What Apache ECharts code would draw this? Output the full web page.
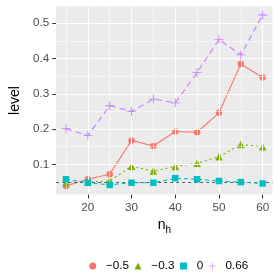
<!DOCTYPE html>
<html><head><meta charset="utf-8">
<script src="https://cdn.jsdelivr.net/npm/echarts@6/dist/echarts.min.js"></script>
<style>html,body{margin:0;padding:0;background:#fff}#c{width:280px;height:280px}</style>
</head><body><div id="c"></div>
<script>
var nh = [15, 20, 25, 30, 35, 40, 45, 50, 55, 60];
var seriesNames = ['\u22120.5', '\u22120.3', '0', '0.66'];
var levelM05 = [0.039, 0.058, 0.072, 0.168, 0.152, 0.193, 0.191, 0.246, 0.384, 0.346];
var levelM03 = [0.048, 0.050, 0.053, 0.095, 0.081, 0.094, 0.103, 0.122, 0.156, 0.150];
var level0   = [0.058, 0.048, 0.042, 0.048, 0.048, 0.061, 0.058, 0.053, 0.050, 0.046];
var level066 = [0.201, 0.182, 0.266, 0.250, 0.285, 0.274, 0.360, 0.454, 0.410, 0.523];
var xTicks = [20, 30, 40, 50, 60];
var xMinor = [15, 25, 35, 45, 55];
var yTicks = [0.1, 0.2, 0.3, 0.4, 0.5];
var yMinor = [0.05, 0.15, 0.25, 0.35, 0.45];
var refLevel = 0.05;

var colors = ['#F8766D', '#7CAE00', '#00BFC4', '#C77CFF'];
var plusPath = 'path://M4.55,0h0.9v10h-0.9z M0,4.55h10v0.9h-10z';
var symbols = ['circle', 'triangle', 'rect', plusPath];
var symSizes = [6.5, 7.5, 6.5, 9];
var dashes = ['solid', [2, 3], [4, 3], [6, 4]];
var vals = [levelM05, levelM03, level0, level066];

function pairs(arr) { return nh.map(function (x, i) { return [x, arr[i]]; }); }

var xmin = 12.75, xmax = 62.25, ymin = 0.0148, ymax = 0.547;
var FONT = 'Liberation Sans';

var series = [];
series.push({
  type: 'line', data: [], silent: true, z: 1,
  markLine: {
    silent: true, symbol: ['none', 'none'], label: {show: false}, animation: false,
    lineStyle: {color: '#FFFFFF', width: 0.55, type: 'solid'},
    data: xMinor.map(function (v) { return {xAxis: v}; }).concat(yMinor.map(function (v) { return {yAxis: v}; }))
  }
});
series.push({
  type: 'line', data: [], silent: true, z: 1,
  markLine: {
    silent: true, symbol: ['none', 'none'], label: {show: false}, animation: false,
    lineStyle: {color: '#FFFFFF', width: 1.1, type: 'solid'},
    data: xTicks.map(function (v) { return {xAxis: v}; }).concat(yTicks.map(function (v) { return {yAxis: v}; }))
  }
});
series.push({
  type: 'line', data: [], silent: true, z: 2,
  markLine: {
    silent: true, symbol: ['none', 'none'], label: {show: false}, animation: false,
    lineStyle: {color: '#333333', width: 0.8, type: [3, 3]},
    data: [{yAxis: refLevel}]
  }
});
for (var i = 0; i < 4; i++) {
  series.push({
    name: seriesNames[i], type: 'line', data: pairs(vals[i]), z: 3 + i,
    symbol: symbols[i], symbolSize: symSizes[i], showSymbol: true,
    lineStyle: {color: colors[i], width: 1.1, type: dashes[i]},
    itemStyle: {color: colors[i]},
    emphasis: {disabled: true}, animation: false
  });
}

var chart = echarts.init(document.getElementById('c'), null, {renderer: 'canvas'});
chart.setOption({
  animation: false,
  grid: {left: 49, right: 7.5, top: 6.5, bottom: 85.5, show: true, backgroundColor: '#EBEBEB', borderWidth: 0},
  xAxis: {
    type: 'value', min: xmin, max: xmax,
    name: '{a|n}{b|h}', nameLocation: 'middle', nameGap: 19,
    nameTextStyle: {rich: {a: {fontSize: 14, color: '#000', fontFamily: FONT}, b: {fontSize: 10, color: '#000', fontFamily: FONT, padding: [9, 0, 0, 0]}}},
    axisLine: {show: false},
    splitLine: {show: false},
    axisTick: {show: true, length: 4, lineStyle: {color: '#333333', width: 1}, customValues: xTicks},
    axisLabel: {customValues: xTicks, color: '#4D4D4D', fontSize: 11.7, fontFamily: FONT, margin: 7}
  },
  yAxis: {
    type: 'value', min: ymin, max: ymax,
    name: 'level', nameLocation: 'middle', nameGap: 30, nameRotate: 90,
    nameTextStyle: {fontSize: 14, color: '#000', fontFamily: FONT},
    axisLine: {show: false},
    splitLine: {show: false},
    axisTick: {show: true, length: 4, lineStyle: {color: '#333333', width: 1}, customValues: yTicks},
    axisLabel: {customValues: yTicks, color: '#4D4D4D', fontSize: 11.7, fontFamily: FONT, margin: 7,
      formatter: function (v) { return v.toFixed(1); }}
  },
  legend: {
    left: 84.2, top: 255, itemWidth: 7, itemHeight: 7, itemGap: 5.5,
    textStyle: {fontSize: 11.7, color: '#000', fontFamily: FONT, padding: [0, 0, 0, 4.8]},
    data: seriesNames.map(function (n, i) { return {name: n, icon: symbols[i]}; })
  },
  series: series
});
</script></body></html>
